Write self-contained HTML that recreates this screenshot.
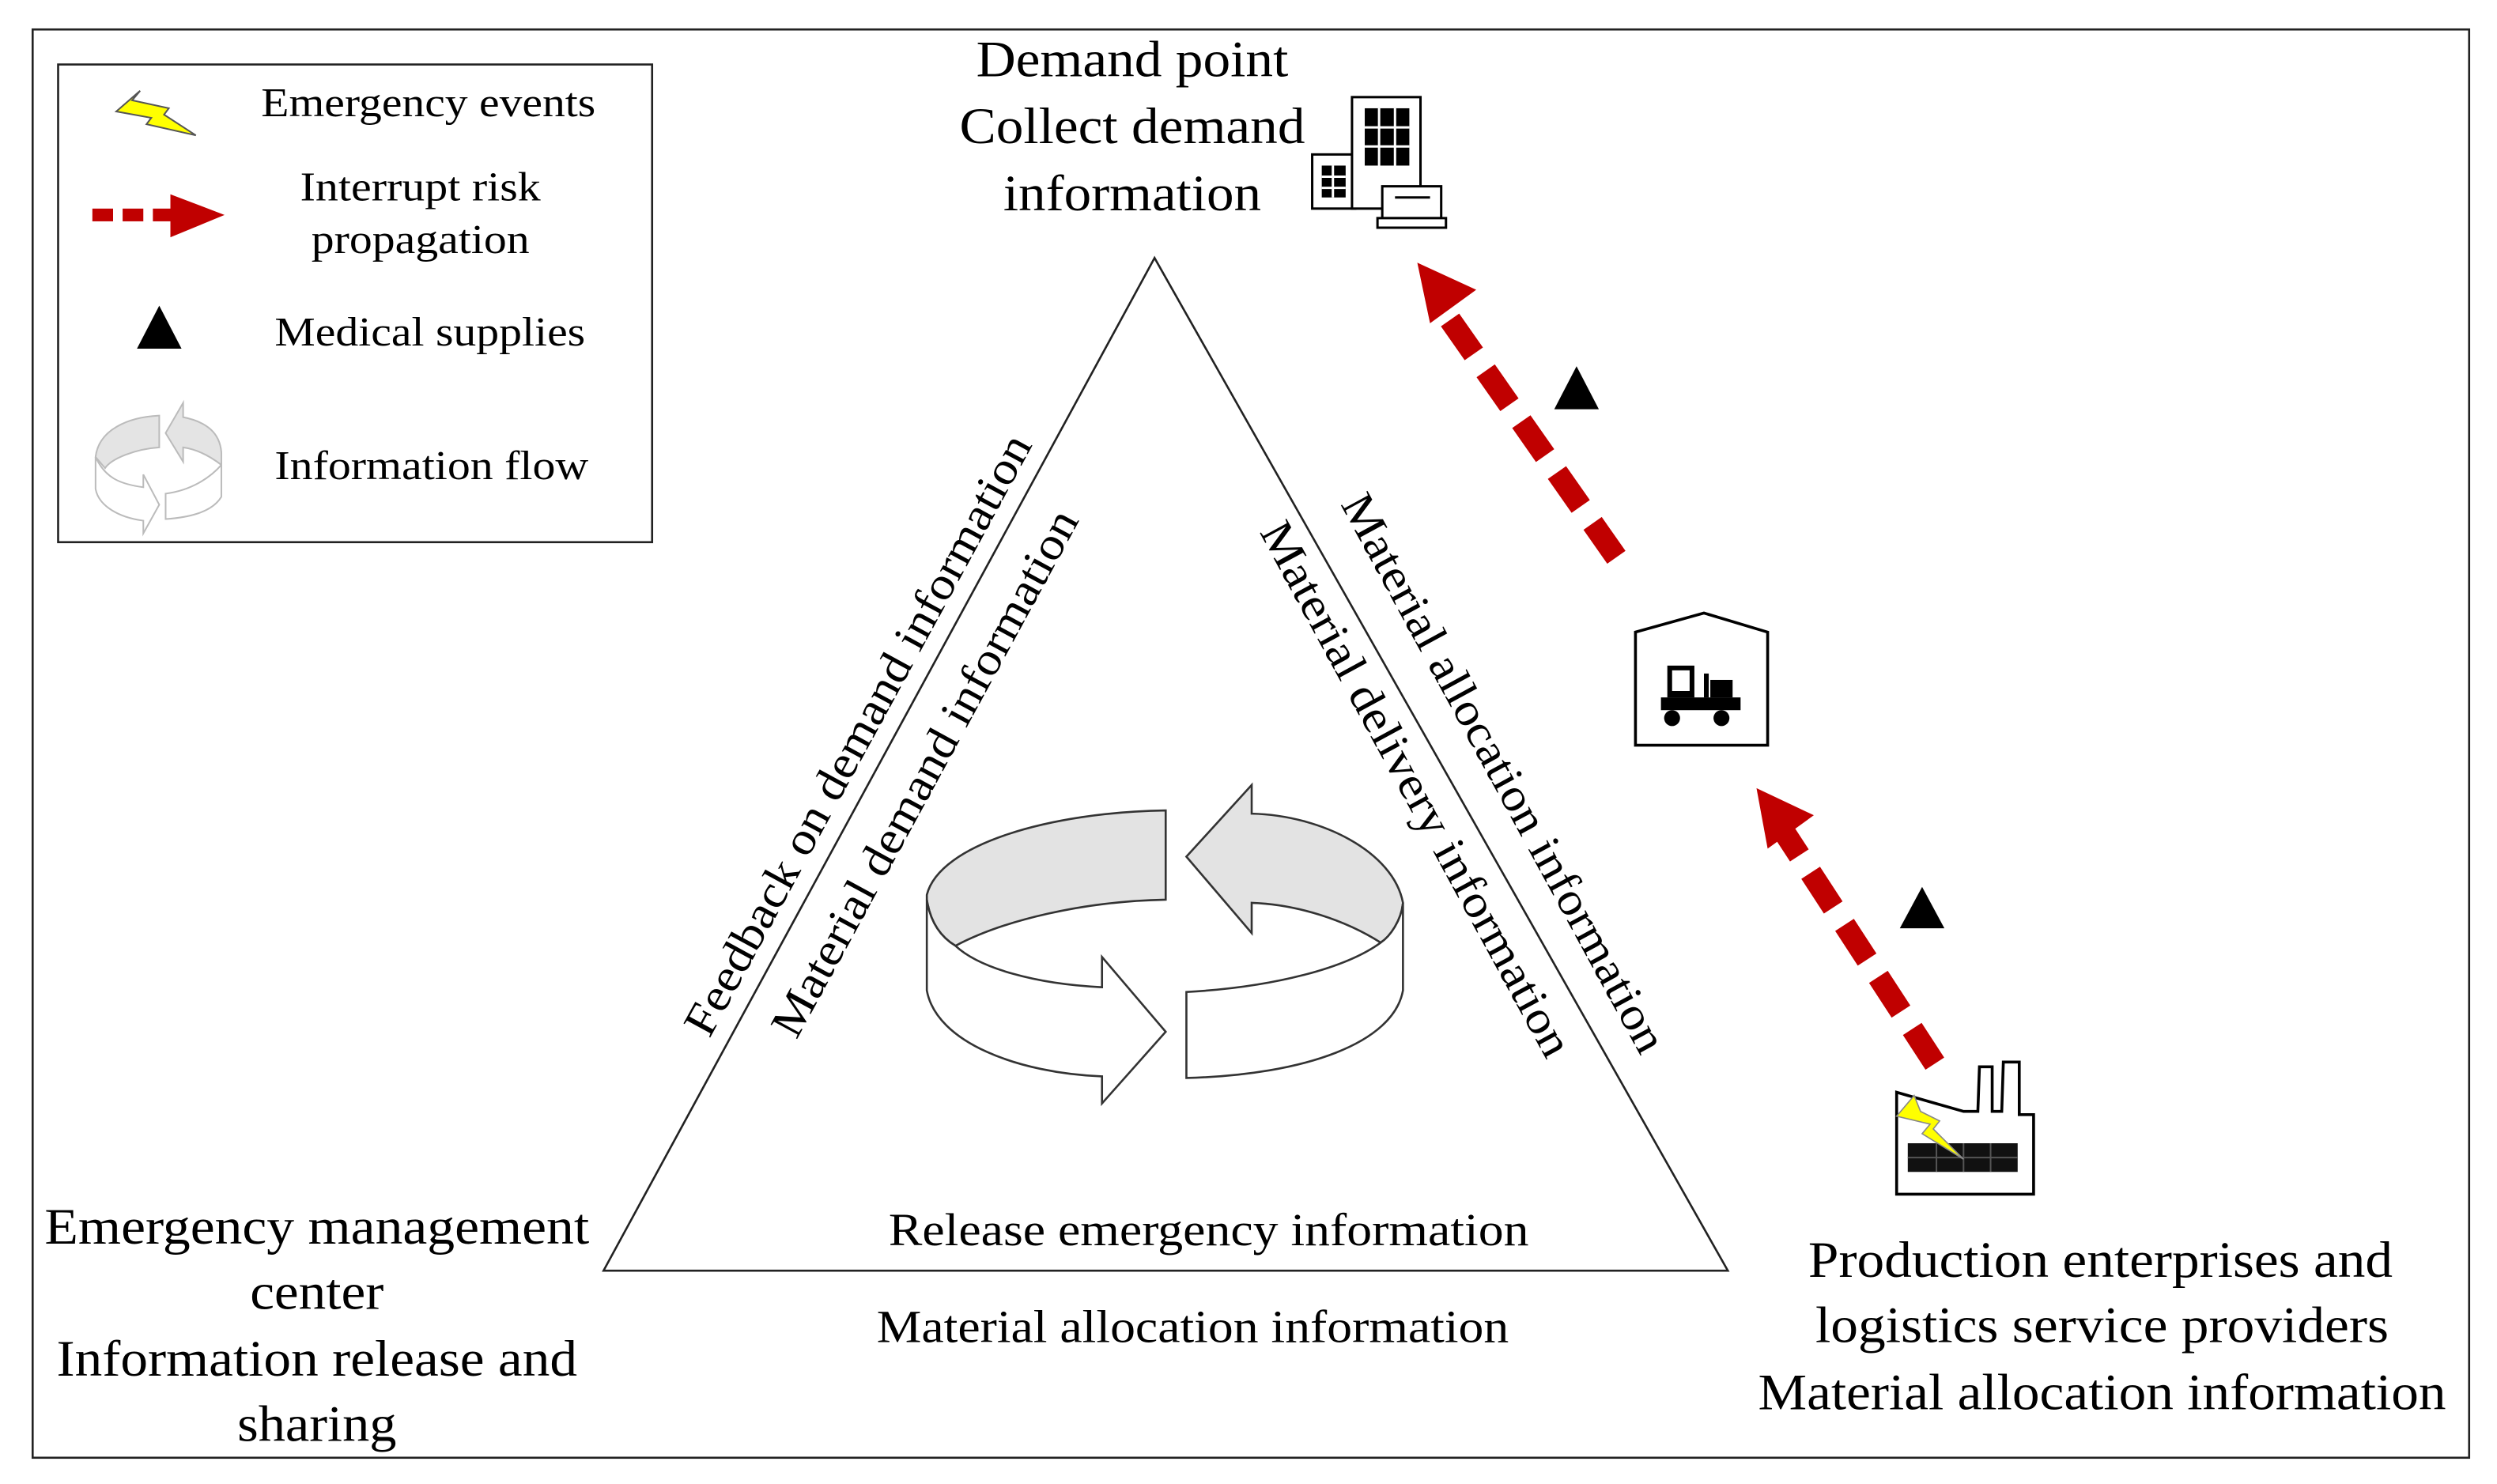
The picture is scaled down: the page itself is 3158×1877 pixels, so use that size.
<!DOCTYPE html>
<html><head><meta charset="utf-8"><style>
html,body{margin:0;padding:0;background:#fff;}
svg{display:block;}
text{font-family:"Liberation Serif","Times New Roman",serif;fill:#000;}
</style></head><body>
<svg width="3158" height="1877" viewBox="0 0 1568 932" preserveAspectRatio="none" xmlns="http://www.w3.org/2000/svg">
<rect x="0" y="0" width="1568" height="932" fill="#fff"/>
<rect x="20.5" y="18.5" width="1530" height="897" fill="none" stroke="#222" stroke-width="1.3"/>
<!-- legend -->
<rect x="36.5" y="40.5" width="373" height="300" fill="none" stroke="#222" stroke-width="1.3"/>
<polygon points="88,57 73,70 95,74 92,78 123,85 103,72 106,68 83,63" fill="#ffff00" stroke="#555" stroke-width="1"/>
<g fill="#c00000"><rect x="58" y="131" width="13" height="8"/><rect x="77" y="131" width="13" height="8"/><rect x="96" y="131" width="12" height="8"/><polygon points="107,122 141,135 107,149"/></g>
<polygon points="100,192 86,219 114,219" fill="#000"/>
<g stroke="#bbb" stroke-width="1" fill="#fff">
<path d="M60,287 C62,270 80,262 100,261 L100,281 C85,282 70,288 66,294 Z" fill="#e4e4e4"/>
<path d="M104,272 L115,253 L115,262 C130,265 138,272 139,284 L139,292 C130,285 122,282 115,281 L115,290 Z" fill="#e4e4e4"/>
<path d="M60,287 L60,307 C62,318 75,325 90,327 L90,335 L100,317 L90,298 L90,306 C75,304 66,300 60,287 Z"/>
<path d="M104,310 C120,308 132,300 139,292 L139,312 C133,322 118,325 104,326 Z"/>
</g>
<g font-size="26" text-anchor="middle">
<text x="269" y="73" textLength="210" lengthAdjust="spacingAndGlyphs">Emergency events</text>
<text x="264" y="126" textLength="151" lengthAdjust="spacingAndGlyphs">Interrupt risk</text>
<text x="264" y="159" textLength="137" lengthAdjust="spacingAndGlyphs">propagation</text>
<text x="270" y="217" textLength="195" lengthAdjust="spacingAndGlyphs">Medical supplies</text>
<text x="271" y="301" textLength="197" lengthAdjust="spacingAndGlyphs">Information flow</text>
</g>
<!-- triangle -->
<polygon points="725,162 379,798 1085,798" fill="none" stroke="#222" stroke-width="1.3"/>
<!-- big labels -->
<g font-size="32" text-anchor="middle">
<text x="711" y="48" textLength="196" lengthAdjust="spacingAndGlyphs">Demand point</text>
<text x="711" y="90" textLength="217" lengthAdjust="spacingAndGlyphs">Collect demand</text>
<text x="711" y="132" textLength="162" lengthAdjust="spacingAndGlyphs">information</text>
<text x="199" y="781" textLength="342" lengthAdjust="spacingAndGlyphs">Emergency management</text>
<text x="199" y="822" textLength="84" lengthAdjust="spacingAndGlyphs">center</text>
<text x="199" y="864" textLength="327" lengthAdjust="spacingAndGlyphs">Information release and</text>
<text x="199" y="905" textLength="100" lengthAdjust="spacingAndGlyphs">sharing</text>
<text x="1319" y="802" textLength="367" lengthAdjust="spacingAndGlyphs">Production enterprises and</text>
<text x="1320" y="843" textLength="360" lengthAdjust="spacingAndGlyphs">logistics service providers</text>
<text x="1320" y="885" textLength="432" lengthAdjust="spacingAndGlyphs">Material allocation information</text>
</g>
<g font-size="29" text-anchor="middle">
<text x="759" y="782" textLength="402" lengthAdjust="spacingAndGlyphs">Release emergency information</text>
<text x="749" y="843" textLength="397" lengthAdjust="spacingAndGlyphs">Material allocation information</text>
<text transform="translate(547,466) rotate(-61.45)" textLength="425" lengthAdjust="spacingAndGlyphs">Feedback on demand information</text>
<text transform="translate(589,490) rotate(-61.45)" textLength="372" lengthAdjust="spacingAndGlyphs">Material demand information</text>
<text transform="translate(936,490) rotate(61.45)" textLength="395" lengthAdjust="spacingAndGlyphs">Material allocation information</text>
<text transform="translate(881,500) rotate(61.45)" textLength="378" lengthAdjust="spacingAndGlyphs">Material delivery information</text>
</g>
<!-- cycle -->
<g stroke="#333" stroke-width="1.3" stroke-linejoin="miter">
<path d="M582,562 C590,530 660,510 732,509 L732,565 C680,566 630,578 600,594 C590,588 584,578 582,565 Z" fill="#e3e3e3"/>
<path d="M582,565 L582,622 C588,655 640,674 692,676 L692,693 L732,648 L692,601 L692,620 C650,618 615,608 600,594 C590,588 584,578 582,565 Z" fill="#fff"/>
<path d="M745,538 L786,493 L786,511 C830,512 875,535 881,567 C880,578 873,588 867,592 C845,578 815,568 786,567 L786,586 Z" fill="#e3e3e3"/>
<path d="M745,623 C800,620 845,608 867,592 C873,588 880,578 881,567 L881,622 C875,655 820,675 745,677 Z" fill="#fff"/>
</g>
<!-- red arrows -->
<g stroke="#c00000" stroke-width="14" stroke-dasharray="26,13">
<line x1="1015" y1="350" x2="905" y2="193"/>
<line x1="1215" y1="668" x2="1120" y2="522"/>
</g>
<polygon points="890,165 927,182 898,203" fill="#c00000"/>
<polygon points="1103,495 1139,512 1110,533" fill="#c00000"/>
<polygon points="990,230 976,257 1004,257" fill="#000"/>
<polygon points="1207,557 1193,583 1221,583" fill="#000"/>
<!-- building icon -->
<g stroke="#000" stroke-width="1.5" fill="#fff">
<rect x="824" y="97" width="27" height="34"/>
<rect x="849" y="61" width="43" height="70"/>
<rect x="868" y="117" width="37" height="20"/>
<path d="M865,137 L908,137 L908,143 L865,143 Z"/>
</g>
<g fill="#000">
<rect x="857" y="68" width="28" height="36"/>
<rect x="830" y="104" width="15" height="20"/>
</g>
<g stroke="#fff" stroke-width="1.5"><line x1="866" y1="68" x2="866" y2="104"/><line x1="876" y1="68" x2="876" y2="104"/><line x1="857" y1="80" x2="885" y2="80"/><line x1="857" y1="92" x2="885" y2="92"/><line x1="837" y1="104" x2="837" y2="124"/><line x1="830" y1="111" x2="845" y2="111"/><line x1="830" y1="118" x2="845" y2="118"/></g>
<line x1="876" y1="124" x2="898" y2="124" stroke="#000" stroke-width="1.5"/>
<!-- warehouse -->
<path d="M1027,397 L1070,385 L1110,397 L1110,468 L1027,468 Z" fill="#fff" stroke="#000" stroke-width="1.8"/>
<g fill="#000">
<path d="M1047,418 h17 v20 h-17 z M1050,421 v13 h11 v-13 z"/>
<rect x="1043" y="438" width="50" height="8"/>
<rect x="1070" y="423" width="3" height="15"/>
<rect x="1074" y="427" width="14" height="11"/>
<circle cx="1050" cy="451" r="5"/><circle cx="1081" cy="451" r="5"/>
</g>
<!-- factory -->
<path d="M1191,686 L1191,750 L1277,750 L1277,700 L1268,700 L1268,667 L1258,667 L1257,698 L1251,698 L1251,670 L1243,670 L1242,698 L1233,698 Z" fill="#fff" stroke="#000" stroke-width="1.8"/>
<rect x="1198" y="718" width="69" height="18" fill="#111"/>
<g stroke="#555" stroke-width="1"><line x1="1216" y1="718" x2="1216" y2="736"/><line x1="1233" y1="718" x2="1233" y2="736"/><line x1="1250" y1="718" x2="1250" y2="736"/><line x1="1198" y1="727" x2="1267" y2="727"/></g>
<polygon points="1202,688 1191,701 1212,706 1207,712 1233,728 1214,709 1218,704 1206,698" fill="#ffff00" stroke="#888" stroke-width="0.8"/>
</svg>
</body></html>
